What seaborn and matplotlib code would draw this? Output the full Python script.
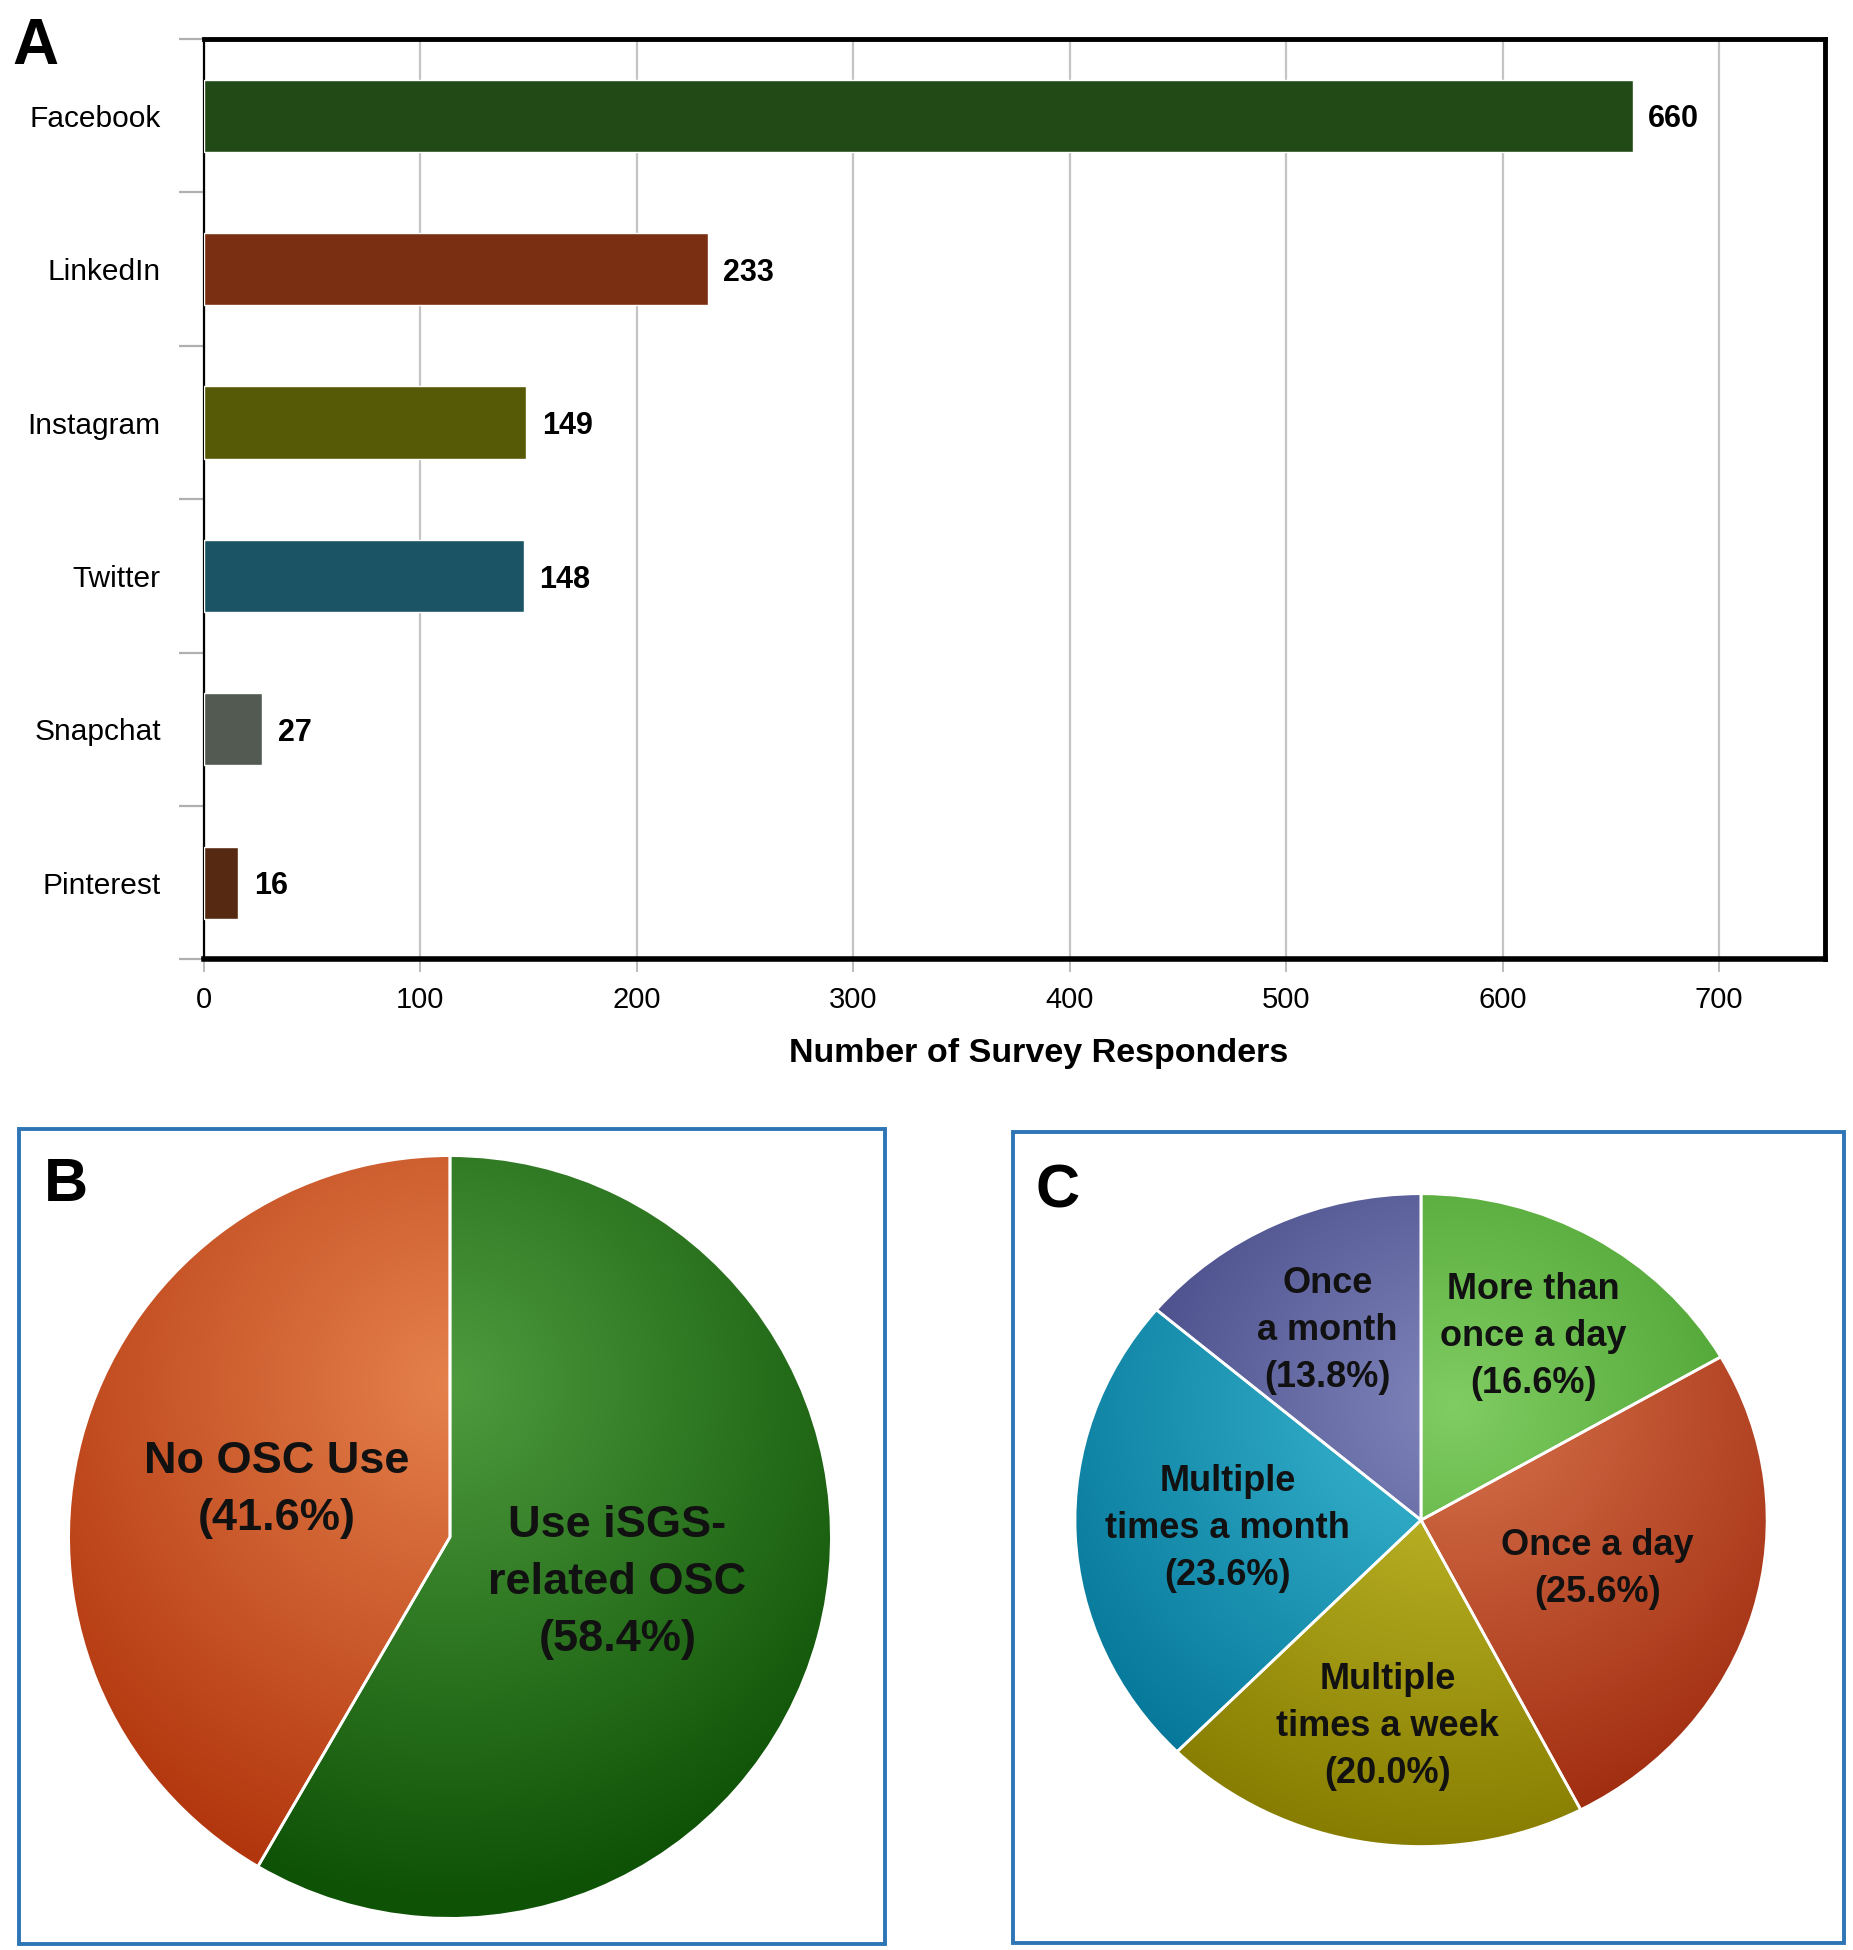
import matplotlib
matplotlib.use("Agg")
import matplotlib.pyplot as plt
import matplotlib.colors as mcolors
import seaborn as sns
import numpy as np
from matplotlib.patches import Rectangle
from matplotlib.ticker import FixedLocator

platforms = ["Facebook", "LinkedIn", "Instagram", "Twitter", "Snapchat", "Pinterest"]
responders = [660, 233, 149, 148, 27, 16]
bar_colors = ["#224a17", "#7a2f12", "#565905", "#1b5565", "#525a52", "#562a12"]

osc_labels = ["Use iSGS-\nrelated OSC\n(58.4%)", "No OSC Use\n(41.6%)"]
osc_share = [58.4, 41.6]
osc_colors = ["#2f8a1c", "#e06a2c"]

freq_labels = ["More than\nonce a day\n(16.6%)", "Once a day\n(25.6%)",
               "Multiple\ntimes a week\n(20.0%)", "Multiple\ntimes a month\n(23.6%)",
               "Once\na month\n(13.8%)"]
freq_share = [16.6, 25.6, 20.0, 23.6, 13.8]
freq_colors = ["#6ac447", "#d05a2c", "#bdb40a", "#1aaecc", "#6a70b0"]

sns.set_style("white")
plt.rcParams['font.family'] = ['Liberation Sans', 'DejaVu Sans']
plt.rcParams['text.color'] = 'black'


def shade_pie(ax, wedges, colors, hx, hy):
    # radial light-to-dark fill, clipped to each wedge
    xs = np.linspace(-1.02, 1.02, 500)
    X, Y = np.meshgrid(xs, xs)
    t = np.clip(np.hypot(X - hx, Y - hy) / 1.35, 0, 1)[..., None]
    for w, c in zip(wedges, colors):
        rgb = np.array(mcolors.to_rgb(c))
        light = rgb + (1 - rgb) * 0.15
        dark = (rgb ** 1.6) * 0.86
        img = light * (1 - t) + dark * t
        im = ax.imshow(img, extent=(-1.02, 1.02, -1.02, 1.02), origin="lower",
                       interpolation="bilinear", zorder=1)
        im.set_clip_path(w)
        w.set_facecolor("none")
        w.set_zorder(2)


def place_labels(texts, wedges, radii, size, spacing):
    for t, w, r in zip(texts, wedges, radii):
        ang = np.deg2rad((w.theta1 + w.theta2) / 2)
        t.set_position((r * np.cos(ang), r * np.sin(ang)))
        t.set_ha("center")
        t.set_va("center")
        t.set_fontsize(size)
        t.set_fontweight("bold")
        t.set_linespacing(spacing)
        t.set_color("#111111")
        t.set_zorder(5)


fig = plt.figure(figsize=(18.53, 19.5), dpi=100)

# ---- panel A: bar chart
ax = fig.add_axes([0.110, 0.508, 0.875, 0.472])
sns.barplot(x=responders, y=platforms, hue=platforms, palette=bar_colors, saturation=1,
            legend=False, orient="h", width=0.47, ax=ax, zorder=3)
ax.set_xlim(0, 749)
ax.set_ylim(5.5, -0.5)
ax.set_xticks(range(0, 701, 100))
ax.xaxis.grid(True, color="#c4c4c4", linewidth=1.6, zorder=0)
ax.set_axisbelow(True)
for c in ax.containers:
    lbls = ax.bar_label(c, padding=11, fontsize=22, fontweight="bold", color="black")
    for l in lbls:
        l.xyann = (11, -2.7)
ax.yaxis.set_minor_locator(FixedLocator(np.arange(-0.5, 6, 1)))
ax.tick_params(axis="y", which="major", length=0, pad=31, labelsize=21.5, labelcolor="black")
ax.tick_params(axis="y", which="minor", left=True, length=18, width=1.6, color="#b0b0b0")
ax.tick_params(axis="x", bottom=True, length=9, width=1.2, color="#b0b0b0", pad=10,
               labelsize=21, labelcolor="black")
ax.set_ylabel("")
ax.set_xlabel("Number of Survey Responders", fontsize=24.5, fontweight="bold", color="black")
ax.xaxis.set_label_coords(0.515, -0.085)
for s, w in [("top", 3.5), ("right", 3.5), ("bottom", 4.0), ("left", 1.6)]:
    ax.spines[s].set_visible(True)
    ax.spines[s].set_color("black")
    ax.spines[s].set_linewidth(w)

fig.text(12 / 1853, 1 - 17 / 1950, "A", fontsize=46, fontweight="bold", va="top", ha="left")

# ---- frames for B and C
for x0, y0, x1, y1 in [(19, 1129, 885, 1944), (1013, 1132, 1844, 1943)]:
    fig.patches.append(Rectangle((x0 / 1853, 1 - y1 / 1950), (x1 - x0) / 1853, (y1 - y0) / 1950,
                                 transform=fig.transFigure, fill=False,
                                 edgecolor="#2e75b6", linewidth=2.8))

# ---- panel B: pie
axb = fig.add_axes([0.0329, 0.0123, 0.4199, 0.399])
wedges, texts = axb.pie(osc_share, labels=osc_labels, colors=osc_colors, startangle=90,
                        counterclock=False,
                        wedgeprops=dict(edgecolor="white", linewidth=2))
shade_pie(axb, wedges, osc_colors, 0.0, 0.4)
place_labels(texts, wedges, [0.455, 0.47], 32.5, 1.5)
axb.set_xlim(-1.02, 1.02)
axb.set_ylim(-1.02, 1.02)
axb.set_aspect("auto")
axb.axis("off")
fig.text(44 / 1853, 1 - 1157 / 1950, "B", fontsize=44, fontweight="bold", va="top", ha="left")

# ---- panel C: pie
axc = fig.add_axes([0.5764, 0.0497, 0.381, 0.3415])
wedges, texts = axc.pie(freq_share, labels=freq_labels, colors=freq_colors, startangle=90,
                        counterclock=False,
                        wedgeprops=dict(edgecolor="white", linewidth=2))
shade_pie(axc, wedges, freq_colors, 0.1, 0.35)
place_labels(texts, wedges, [0.65, 0.53, 0.64, 0.56, 0.64], 26, 1.45)
axc.set_xlim(-1.02, 1.02)
axc.set_ylim(-1.02, 1.02)
axc.set_aspect("auto")
axc.axis("off")
fig.text(1035 / 1853, 1 - 1163 / 1950, "C", fontsize=44, fontweight="bold", va="top", ha="left")

fig.savefig("out.png", dpi=100)
